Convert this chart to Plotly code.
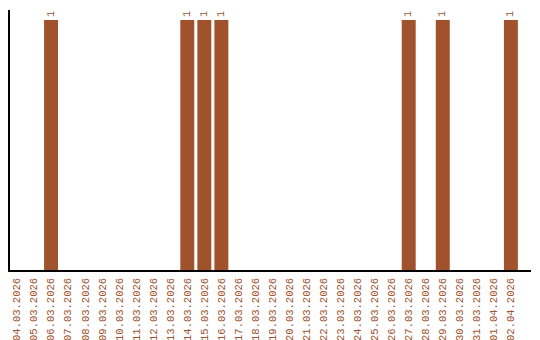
import plotly.graph_objects as go

dates = ["04.03.2026","05.03.2026","06.03.2026","07.03.2026","08.03.2026","09.03.2026",
         "10.03.2026","11.03.2026","12.03.2026","13.03.2026","14.03.2026","15.03.2026",
         "16.03.2026","17.03.2026","18.03.2026","19.03.2026","20.03.2026","21.03.2026",
         "22.03.2026","23.03.2026","24.03.2026","25.03.2026","26.03.2026","27.03.2026",
         "28.03.2026","29.03.2026","30.03.2026","31.03.2026","01.04.2026","02.04.2026"]
values = [0,0,1,0,0,0,0,0,0,0,1,1,1,0,0,0,0,0,0,0,0,0,0,1,0,1,0,0,0,1]

color = "#a0522d"
labels = [str(v) if v else "" for v in values]

fig = go.Figure(go.Bar(
    x=dates, y=values, marker=dict(color=color, line=dict(width=0)),
    width=0.82, text=labels, textposition="outside", textangle=-90,
    textfont=dict(family="Liberation Mono", size=10, color=color),
    cliponaxis=False,
))
fig.update_layout(
    width=540, height=340, margin=dict(l=10, r=9, t=10, b=70, autoexpand=False),
    plot_bgcolor="white", paper_bgcolor="white", showlegend=False,
    xaxis=dict(type="category", range=[-0.41, 30.18], tickangle=-90, automargin=False,
               tickfont=dict(family="Liberation Mono", size=10.5, color=color),
               showline=True, linecolor="black", linewidth=1.5, showgrid=False,
               ticks="outside", ticklen=2, tickcolor="rgba(0,0,0,0)"),
    yaxis=dict(range=[0, 1.04], showticklabels=False, showgrid=False, zeroline=False,
               automargin=False,
               showline=True, linecolor="black", linewidth=1.5, ticks=""),
)
fig.write_html("out.html")
